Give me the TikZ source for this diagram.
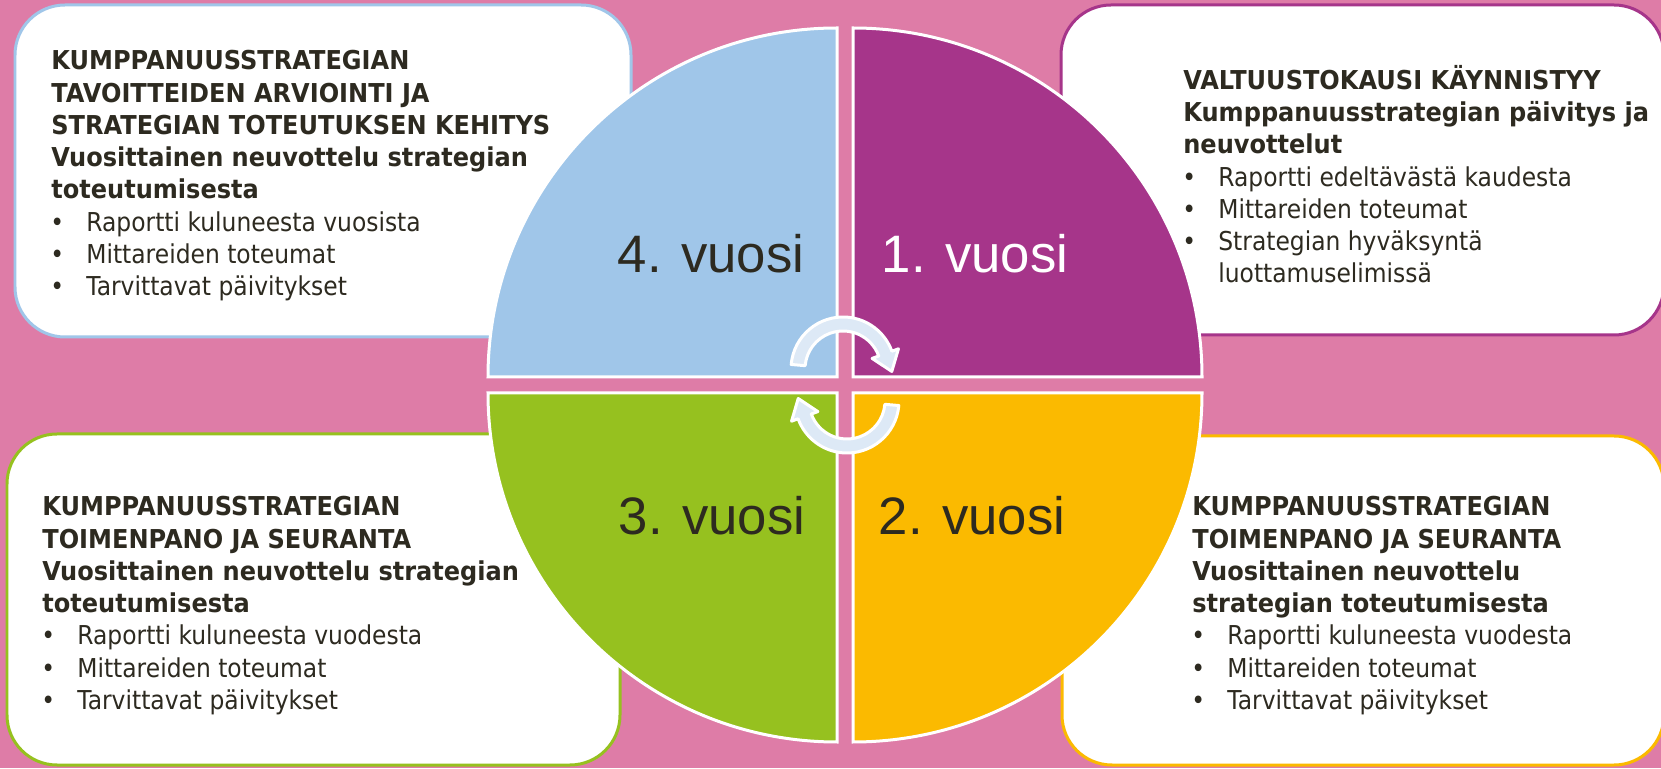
\documentclass[tikz,border=0pt]{standalone}
\usepackage{fontspec}
\setmainfont{DejaVu Sans}[FakeStretch=0.9,BoldFeatures={FakeStretch=0.925}]
\newfontfamily\yearfont{Liberation Sans}
\usetikzlibrary{calc,positioning}

\definecolor{bgpink}{RGB}{222,124,167}
\definecolor{qblue}{RGB}{160,198,233}
\definecolor{qpurple}{RGB}{166,53,138}
\definecolor{qgreen}{RGB}{150,193,31}
\definecolor{qyellow}{RGB}{251,186,0}
\definecolor{txtdark}{RGB}{45,42,32}
\definecolor{arrowfill}{RGB}{221,233,246}
\newcommand{\itm}{\makebox[0.7cm][l]{\hspace{-0.02cm}•}}
\newcommand{\itmgap}{\makebox[0.7cm]{}}

\begin{document}
\begin{tikzpicture}[x=0.02cm,y=0.02cm,
    infobox/.style={fill=white,line width=0.06cm,rounded corners=1cm},
    quarter/.style={draw=white,line width=0.06cm},
    boxtext/.style={anchor=north west,inner sep=0,align=left,text=txtdark,
      font=\fontsize{14.8}{18.35}\selectfont},
    yearlbl/.style={font=\yearfont\fontsize{30}{36}\selectfont,text=txtdark},
    cyclearrow/.style={fill=arrowfill,draw=white,line width=0.06cm,line join=round}]
  % Background / page size
  \fill[bgpink] (0,0) rectangle (1661,768);
  \useasboundingbox (0,0) rectangle (1661,768);

  % Text boxes behind the circle
  \draw[infobox,draw=qblue]   (15,431)   rectangle (631,763);
  \draw[infobox,draw=qpurple] (1061,433) rectangle (1664,763);
  \draw[infobox,draw=qgreen]  (7,3)      rectangle (620,334);
  \draw[infobox,draw=qyellow] (1062,3)   rectangle (1664,332);

  % Four quarters of the year circle
  \path[quarter,fill=qblue]   (837,391) -- ++(-349,0) arc[start angle=180,end angle=90,radius=349] -- cycle;
  \path[quarter,fill=qpurple] (853,391) -- ++(0,349) arc[start angle=90,end angle=0,radius=349] -- cycle;
  \path[quarter,fill=qgreen]  (837,375) -- ++(-349,0) arc[start angle=180,end angle=270,radius=349] -- cycle;
  \path[quarter,fill=qyellow] (853,375) -- ++(349,0) arc[start angle=0,end angle=-90,radius=349] -- cycle;

  % Year labels
  \node[yearlbl] (y4) at (711,514) {4. vuosi};
  \node[yearlbl,text=white] (y1) at (975,514) {1. vuosi};
  \node[yearlbl] (y3) at (712,252) {3. vuosi};
  \node[yearlbl] (y2) at (972,252) {2. vuosi};

  % Cycle arrows in the middle
  \coordinate (c1) at (843,399);
  \coordinate (c2) at (847,367);
  \path[cyclearrow] ($(c1)+(175:52)$) arc[start angle=175,end angle=20,radius=52]
    -- ($(c1)+(20:59)$) -- ($(c1)+(20:45)+(-70:19)$) -- ($(c1)+(20:31)$)
    -- ($(c1)+(20:38)$) arc[start angle=20,end angle=175,radius=38] -- cycle;
  \path[cyclearrow] ($(c2)+(-5:52)$) arc[start angle=-5,end angle=-160,radius=52]
    -- ($(c2)+(-160:59)$) -- ($(c2)+(-160:45)+(110:19)$) -- ($(c2)+(-160:31)$)
    -- ($(c2)+(-160:38)$) arc[start angle=-160,end angle=-5,radius=38] -- cycle;

  % Box texts
  \node[boxtext] (tl) at (51,721) {\strut\textbf{KUMPPANUUSSTRATEGIAN}\\
    \textbf{TAVOITTEIDEN ARVIOINTI JA}\\
    \textbf{STRATEGIAN TOTEUTUKSEN KEHITYS}\\
    \textbf{Vuosittainen neuvottelu strategian}\\
    \textbf{toteutumisesta}\\
    \itm Raportti kuluneesta vuosista\\
    \itm Mittareiden toteumat\\
    \itm Tarvittavat päivitykset};
  \node[boxtext] (tr) at (1183,703) {\strut\textbf{VALTUUSTOKAUSI KÄYNNISTYY}\\
    \textbf{Kumppanuusstrategian päivitys ja}\\
    \textbf{neuvottelut}\\
    \itm Raportti edeltävästä kaudesta\\
    \itm Mittareiden toteumat\\
    \itm Strategian hyväksyntä\\
    \itmgap luottamuselimissä};
  \node[boxtext] (bl) at (42,275) {\strut\textbf{KUMPPANUUSSTRATEGIAN}\\
    \textbf{TOIMENPANO JA SEURANTA}\\
    \textbf{Vuosittainen neuvottelu strategian}\\
    \textbf{toteutumisesta}\\
    \itm Raportti kuluneesta vuodesta\\
    \itm Mittareiden toteumat\\
    \itm Tarvittavat päivitykset};
  \node[boxtext] (br) at (1192,275) {\strut\textbf{KUMPPANUUSSTRATEGIAN}\\
    \textbf{TOIMENPANO JA SEURANTA}\\
    \textbf{Vuosittainen neuvottelu}\\
    \textbf{strategian toteutumisesta}\\
    \itm Raportti kuluneesta vuodesta\\
    \itm Mittareiden toteumat\\
    \itm Tarvittavat päivitykset};
\end{tikzpicture}
\end{document}
